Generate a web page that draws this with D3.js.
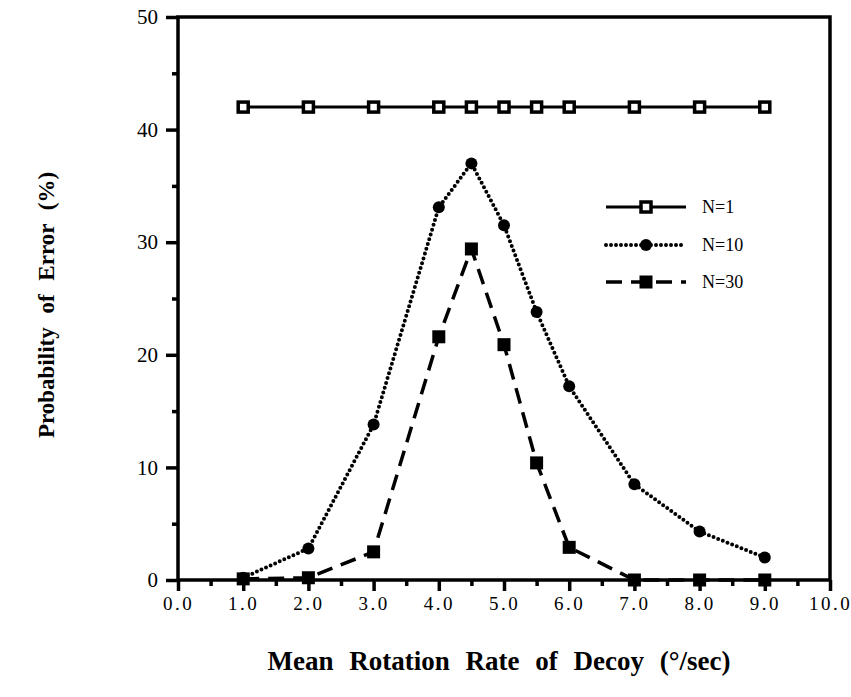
<!DOCTYPE html>
<html>
<head>
<meta charset="utf-8">
<script src="https://cdn.jsdelivr.net/npm/d3@7"></script>
<style>
  body { margin: 0; background: #fff; }
  svg text { font-family: "Liberation Serif", "Times New Roman", Times, serif !important; fill: #000; }
</style>
</head>
<body>
<div id="chart"></div>
<script>
// Probability of error vs decoy rotation rate
const rates = [1.0, 2.0, 3.0, 4.0, 4.5, 5.0, 5.5, 6.0, 7.0, 8.0, 9.0];
const n1 = [42, 42, 42, 42, 42, 42, 42, 42, 42, 42, 42];
const n10 = [0.2, 2.8, 13.8, 33.1, 37.0, 31.5, 23.8, 17.2, 8.5, 4.3, 2.0];
const n30 = [0.1, 0.2, 2.5, 21.6, 29.4, 20.9, 10.4, 2.9, 0, 0, 0];
const xTicks = [0, 1, 2, 3, 4, 5, 6, 7, 8, 9, 10];
const yTicks = [0, 10, 20, 30, 40, 50];
const seriesNames = ['N=1', 'N=10', 'N=30'];

const width = 851, height = 697;

const svg = d3.select('#chart').append('svg')
  .attr('width', width)
  .attr('height', height);

const x = d3.scaleLinear().domain([0, 10]).range([178, 830]);
const y = d3.scaleLinear().domain([0, 50]).range([580, 17]);

// frame
svg.append('rect')
  .attr('x', x(0)).attr('y', y(50))
  .attr('width', x(10) - x(0)).attr('height', y(0) - y(50))
  .attr('fill', 'none').attr('stroke', '#000').attr('stroke-width', 3.5);

// y axis
const yAxis = d3.axisLeft(y).tickValues(yTicks).tickSize(12).tickPadding(8).tickFormat(d3.format('d'));
const gy = svg.append('g').attr('transform', `translate(${x(0)},0)`).call(yAxis);
gy.select('.domain').remove();
gy.selectAll('line').attr('stroke-width', 3.5);
gy.selectAll('text').attr('font-size', 21);

const yMinor = d3.axisLeft(y).tickValues([5, 15, 25, 35, 45]).tickSize(6).tickFormat('');
const gy2 = svg.append('g').attr('transform', `translate(${x(0)},0)`).call(yMinor);
gy2.select('.domain').remove();
gy2.selectAll('line').attr('stroke-width', 3.5);

// x axis
const xAxis = d3.axisBottom(x).tickValues(xTicks).tickSize(11).tickPadding(6).tickFormat(d3.format('.1f'));
const gx = svg.append('g').attr('transform', `translate(0,${y(0)})`).call(xAxis);
gx.select('.domain').remove();
gx.selectAll('line').attr('stroke-width', 3.5);
gx.selectAll('text').attr('font-size', 19).attr('letter-spacing', '2.5px');

const xMinor = d3.axisBottom(x).tickValues(d3.range(0.5, 10, 1)).tickSize(6).tickFormat('');
const gx2 = svg.append('g').attr('transform', `translate(0,${y(0)})`).call(xMinor);
gx2.select('.domain').remove();
gx2.selectAll('line').attr('stroke-width', 3.5);

// titles
svg.append('text')
  .attr('x', 499).attr('y', 670)
  .attr('text-anchor', 'middle')
  .attr('font-size', 27).attr('font-weight', 'bold')
  .attr('word-spacing', '9px')
  .text('Mean Rotation Rate of Decoy (°/sec)');

svg.append('text')
  .attr('transform', 'translate(54,305) rotate(-90)')
  .attr('text-anchor', 'middle')
  .attr('font-size', 23).attr('font-weight', 'bold')
  .attr('word-spacing', '8px')
  .text('Probability of Error (%)');

const line = d3.line().x(d => x(d[0])).y(d => y(d[1]));

const styles = [
  { dash: null, width: 3, cap: 'butt' },
  { dash: '0,5', width: 4, cap: 'round' },
  { dash: '16,9', width: 3.5, cap: 'butt' }
];
const seriesData = [n1, n10, n30];

function marker(g, type, cx, cy) {
  if (type === 0) {
    g.append('rect').attr('x', cx - 5).attr('y', cy - 5).attr('width', 10).attr('height', 10)
      .attr('fill', '#fff').attr('stroke', '#000').attr('stroke-width', 3.5);
  } else if (type === 1) {
    g.append('circle').attr('cx', cx).attr('cy', cy).attr('r', 6).attr('fill', '#000');
  } else {
    g.append('rect').attr('x', cx - 6.5).attr('y', cy - 6.5).attr('width', 13).attr('height', 13).attr('fill', '#000');
  }
}

seriesData.forEach((vals, i) => {
  const pts = rates.map((r, j) => [r, vals[j]]);
  svg.append('path')
    .attr('d', line(pts))
    .attr('fill', 'none').attr('stroke', '#000')
    .attr('stroke-width', styles[i].width)
    .attr('stroke-linecap', styles[i].cap)
    .attr('stroke-dasharray', styles[i].dash);
  const g = svg.append('g');
  pts.forEach(p => marker(g, i, x(p[0]), y(p[1])));
});

// legend
const legY = [207, 245, 282];
seriesNames.forEach((name, i) => {
  svg.append('line')
    .attr('x1', 606).attr('x2', 686)
    .attr('y1', legY[i]).attr('y2', legY[i])
    .attr('stroke', '#000')
    .attr('stroke-width', styles[i].width)
    .attr('stroke-linecap', styles[i].cap)
    .attr('stroke-dasharray', styles[i].dash);
  marker(svg, i, 646, legY[i]);
  svg.append('text')
    .attr('x', 702).attr('y', legY[i] + 6)
    .attr('font-size', 18)
    .text(name);
});
</script>
</body>
</html>
